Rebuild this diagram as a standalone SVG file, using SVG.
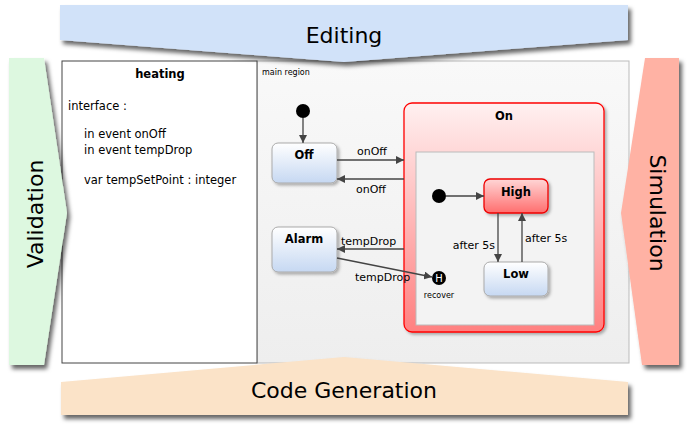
<svg xmlns="http://www.w3.org/2000/svg" width="688" height="428" viewBox="0 0 688 428">
<style>
text{font-family:"DejaVu Sans","Liberation Sans",sans-serif;fill:#000}
.big{font-size:22px}
.lbl{font-size:11px}
.code{font-size:11.5px}
.st{font-size:11.5px;font-weight:bold;text-anchor:middle}
.small{font-size:8px}
.edge{stroke:#444;stroke-width:1.3;fill:none;marker-end:url(#arr)}
.blue{fill:url(#gBlue);stroke:#aaa;stroke-width:1}
.red{fill:url(#gRed);stroke:#e00;stroke-width:1.3}
</style>
<defs>
<filter id="sh" x="-10%" y="-10%" width="130%" height="130%"><feDropShadow dx="3" dy="4" stdDeviation="2" flood-color="#000" flood-opacity="0.6"/></filter>
<filter id="shs" x="-10%" y="-10%" width="130%" height="130%"><feDropShadow dx="2" dy="2" stdDeviation="1.5" flood-color="#000" flood-opacity="0.3"/></filter>
<linearGradient id="gBlue" x1="0" y1="0" x2="0" y2="1"><stop offset="0" stop-color="#ffffff"/><stop offset="1" stop-color="#c6d8f2"/></linearGradient>
<linearGradient id="gRed" x1="0" y1="0" x2="0" y2="1"><stop offset="0" stop-color="#ffd6d6"/><stop offset="1" stop-color="#ff6e6e"/></linearGradient>
<linearGradient id="gOn" x1="0" y1="0" x2="0" y2="1"><stop offset="0" stop-color="#fff0f0"/><stop offset="1" stop-color="#ff8080"/></linearGradient>
<linearGradient id="gMain" x1="0" y1="0" x2="0" y2="1"><stop offset="0" stop-color="#f9f9f9"/><stop offset="1" stop-color="#eeeeee"/></linearGradient>
<marker id="arr" viewBox="0 0 10 10" refX="10" refY="5" markerWidth="8" markerHeight="8" markerUnits="userSpaceOnUse" orient="auto"><path d="M0,0 L10,5 L0,10 z" fill="#444"/></marker>
</defs>

<g id="main-region">
<rect x="257" y="61" width="372" height="302" fill="url(#gMain)" stroke="#bbb" stroke-width="1"/>
<text class="small" x="262" y="75">main region</text>
</g>

<g id="interface-panel">
<rect x="62" y="61" width="195" height="302" fill="#fff" stroke="#444" stroke-width="1"/>
<text class="code" x="160" y="78" text-anchor="middle" font-weight="bold">heating</text>
<text class="code" x="68" y="110">interface :</text>
<text class="code" x="84" y="138">in event onOff</text>
<text class="code" x="84" y="154">in event tempDrop</text>
<text class="code" x="84" y="184">var tempSetPoint : integer</text>
</g>

<g id="editing">
<polygon points="60,5 628,5 628,40 344,62 60,40" fill="#d1e2f9" filter="url(#sh)"/>
<text class="big" x="344" y="43" text-anchor="middle">Editing</text>
</g>
<g id="code-generation">
<polygon points="61,382 344,357 628,382 628,415 61,415" fill="#fbe3c8" filter="url(#sh)"/>
<text class="big" x="344" y="398" text-anchor="middle">Code Generation</text>
</g>
<g id="validation">
<polygon points="9,58 44,58 67,213 44,365 9,365" fill="#ddf8e0" filter="url(#sh)"/>
<text class="big" transform="translate(43,214) rotate(-90)" text-anchor="middle">Validation</text>
</g>
<g id="simulation">
<polygon points="645,58 679,58 679,365 642,365 621,213" fill="#ffb2a4" filter="url(#sh)"/>
<text class="big" transform="translate(650,213) rotate(90)" text-anchor="middle">Simulation</text>
</g>

<g id="state-On">
<rect x="404" y="103" width="200" height="229" rx="8" fill="url(#gOn)" stroke="#f00" stroke-width="1.3" filter="url(#shs)"/>
<text class="st" x="504" y="120">On</text>
<rect x="416" y="152" width="178" height="173" fill="#f3f3f3" stroke="#bbb" stroke-width="1"/>
</g>

<g id="init-main"><circle cx="303" cy="111" r="7" fill="#000"/></g>
<g id="state-Off">
<rect class="blue" x="272" y="143" width="65" height="40" rx="6" filter="url(#shs)"/>
<text class="st" x="304" y="159">Off</text>
</g>
<g id="state-Alarm">
<rect class="blue" x="272" y="227" width="65" height="45" rx="6" filter="url(#shs)"/>
<text class="st" x="304" y="243">Alarm</text>
</g>
<g id="init-On"><circle cx="439" cy="196" r="7" fill="#000"/></g>
<g id="state-High">
<rect class="red" x="484" y="179" width="64" height="34" rx="6" filter="url(#shs)"/>
<text class="st" x="516" y="196">High</text>
</g>
<g id="state-Low">
<rect class="blue" x="484" y="262" width="64" height="34" rx="6" filter="url(#shs)"/>
<text class="st" x="516" y="278">Low</text>
</g>
<g id="history-recover">
<circle cx="439" cy="278" r="7" fill="#000"/>
<text x="439" y="282" font-size="10" text-anchor="middle" style="fill:#fff">H</text>
<text class="small" x="439" y="298" text-anchor="middle">recover</text>
</g>

<g id="connectors">
<line class="edge" x1="303" y1="118" x2="303" y2="143"/>
<line class="edge" x1="337" y1="160" x2="404" y2="160"/>
<text class="lbl" x="357" y="155">onOff</text>
<line class="edge" x1="404" y1="179" x2="337" y2="179"/>
<text class="lbl" x="356" y="193">onOff</text>
<line class="edge" x1="404" y1="249" x2="337" y2="249"/>
<text class="lbl" x="341" y="245">tempDrop</text>
<line class="edge" x1="337" y1="258" x2="432" y2="277"/>
<text class="lbl" x="355" y="281">tempDrop</text>
<line class="edge" x1="446" y1="196" x2="484" y2="196"/>
<line class="edge" x1="498" y1="213" x2="498" y2="262"/>
<text class="lbl" x="495" y="249" text-anchor="end">after 5s</text>
<line class="edge" x1="522" y1="262" x2="522" y2="213"/>
<text class="lbl" x="525" y="242">after 5s</text>
</g>
</svg>
